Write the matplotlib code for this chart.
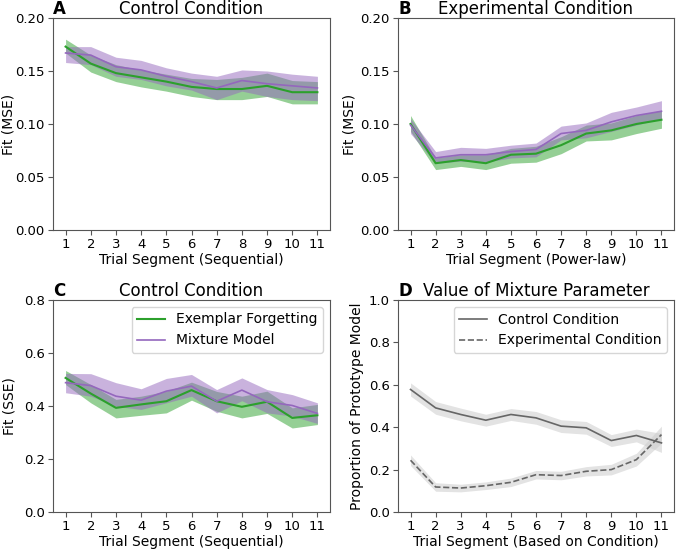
import matplotlib
matplotlib.use("Agg")
import matplotlib.pyplot as plt
import numpy as np

segments = np.arange(1, 12)

# Panel A: control condition, MSE
a_exemplar = [0.173, 0.157, 0.148, 0.144, 0.140, 0.135, 0.133, 0.133, 0.136, 0.130, 0.130]
a_exemplar_hi = [0.180, 0.165, 0.156, 0.151, 0.147, 0.143, 0.142, 0.144, 0.148, 0.141, 0.140]
a_exemplar_lo = [0.167, 0.149, 0.140, 0.135, 0.131, 0.126, 0.123, 0.123, 0.126, 0.119, 0.119]
a_mixture = [0.167, 0.165, 0.154, 0.151, 0.145, 0.140, 0.134, 0.141, 0.138, 0.136, 0.134]
a_mixture_hi = [0.173, 0.173, 0.163, 0.160, 0.153, 0.148, 0.145, 0.151, 0.150, 0.147, 0.145]
a_mixture_lo = [0.158, 0.156, 0.145, 0.142, 0.136, 0.132, 0.123, 0.131, 0.126, 0.123, 0.122]

# Panel B: experimental condition, MSE
b_exemplar = [0.100, 0.063, 0.066, 0.063, 0.071, 0.072, 0.080, 0.091, 0.094, 0.100, 0.104]
b_exemplar_hi = [0.108, 0.068, 0.071, 0.071, 0.077, 0.079, 0.088, 0.099, 0.101, 0.108, 0.113]
b_exemplar_lo = [0.093, 0.057, 0.060, 0.057, 0.063, 0.064, 0.072, 0.084, 0.085, 0.091, 0.096]
b_mixture = [0.099, 0.068, 0.071, 0.071, 0.074, 0.076, 0.091, 0.094, 0.102, 0.108, 0.112]
b_mixture_hi = [0.105, 0.074, 0.078, 0.077, 0.080, 0.082, 0.098, 0.101, 0.111, 0.116, 0.122]
b_mixture_lo = [0.091, 0.063, 0.065, 0.064, 0.068, 0.069, 0.085, 0.087, 0.093, 0.099, 0.105]

# Panel C: control condition, SSE
c_exemplar = [0.506, 0.447, 0.393, 0.406, 0.418, 0.460, 0.418, 0.397, 0.416, 0.355, 0.365]
c_exemplar_hi = [0.534, 0.481, 0.425, 0.437, 0.456, 0.490, 0.455, 0.437, 0.456, 0.393, 0.406]
c_exemplar_lo = [0.481, 0.412, 0.355, 0.365, 0.374, 0.422, 0.380, 0.355, 0.372, 0.317, 0.330]
c_mixture = [0.488, 0.477, 0.437, 0.422, 0.456, 0.475, 0.418, 0.460, 0.416, 0.402, 0.372]
c_mixture_hi = [0.523, 0.522, 0.488, 0.465, 0.504, 0.519, 0.462, 0.506, 0.462, 0.443, 0.412]
c_mixture_lo = [0.450, 0.437, 0.399, 0.387, 0.412, 0.437, 0.374, 0.420, 0.374, 0.362, 0.334]

# Panel D: mixture parameter
d_control = [0.578, 0.491, 0.460, 0.433, 0.460, 0.444, 0.405, 0.397, 0.337, 0.361, 0.326]
d_control_err = [0.031, 0.030, 0.030, 0.028, 0.028, 0.030, 0.030, 0.030, 0.028, 0.030, 0.045]
d_experimental = [0.244, 0.118, 0.113, 0.124, 0.140, 0.176, 0.172, 0.192, 0.200, 0.247, 0.365]
d_experimental_err = [0.025, 0.020, 0.018, 0.018, 0.020, 0.020, 0.020, 0.022, 0.025, 0.030, 0.040]

green = "#2ca02c"
purple = "#9467bd"
grey = "#666666"

fig = plt.figure(figsize=(6.76, 5.5), dpi=100)
W, H = 676, 550
def place(l, t, r, b):
    return fig.add_axes([l / W, 1 - b / H, (r - l) / W, (b - t) / H])

ax_a = place(53, 18, 330, 230)
ax_b = place(398, 18, 674, 230)
ax_c = place(53, 300, 330, 512)
ax_d = place(398, 300, 674, 512)

def fit_panel(ax, ex, ex_hi, ex_lo, mx, mx_hi, mx_lo):
    ax.fill_between(segments, ex_lo, ex_hi, color=green, alpha=0.5, lw=0)
    ax.fill_between(segments, mx_lo, mx_hi, color=purple, alpha=0.5, lw=0)
    ax.plot(segments, ex, color=green, lw=1.5, label="Exemplar Forgetting")
    ax.plot(segments, mx, color=purple, lw=1.2, label="Mixture Model")

fit_panel(ax_a, a_exemplar, a_exemplar_hi, a_exemplar_lo, a_mixture, a_mixture_hi, a_mixture_lo)
fit_panel(ax_b, b_exemplar, b_exemplar_hi, b_exemplar_lo, b_mixture, b_mixture_hi, b_mixture_lo)
fit_panel(ax_c, c_exemplar, c_exemplar_hi, c_exemplar_lo, c_mixture, c_mixture_hi, c_mixture_lo)

d_control = np.array(d_control)
d_experimental = np.array(d_experimental)
ax_d.fill_between(segments, d_control - d_control_err, d_control + d_control_err, color="#cccccc", alpha=0.55, lw=0)
ax_d.fill_between(segments, d_experimental - d_experimental_err, d_experimental + d_experimental_err, color="#cccccc", alpha=0.55, lw=0)
ax_d.plot(segments, d_control, color=grey, lw=1.2, label="Control Condition")
ax_d.plot(segments, d_experimental, color=grey, lw=1.2, ls="--", label="Experimental Condition")

# axes formatting
for ax in (ax_a, ax_b):
    ax.set_ylim(0, 0.2)
    ax.set_yticks([0, 0.05, 0.10, 0.15, 0.20])
    ax.set_yticklabels(["0.00", "0.05", "0.10", "0.15", "0.20"])
    ax.set_ylabel("Fit (MSE)", fontsize=10)
ax_c.set_ylim(0, 0.8)
ax_c.set_yticks([0, 0.2, 0.4, 0.6, 0.8])
ax_c.set_ylabel("Fit (SSE)", fontsize=10)
ax_d.set_ylim(0, 1.0)
ax_d.set_yticks([0, 0.2, 0.4, 0.6, 0.8, 1.0])
ax_d.set_ylabel("Proportion of Prototype Model", fontsize=10)

ax_a.yaxis.set_label_coords(-0.137, 0.5)
ax_b.yaxis.set_label_coords(-0.152, 0.5)
ax_c.yaxis.set_label_coords(-0.130, 0.5)
ax_d.yaxis.set_label_coords(-0.123, 0.5)

ax_a.set_xlabel("Trial Segment (Sequential)", fontsize=10, labelpad=1)
ax_b.set_xlabel("Trial Segment (Power-law)", fontsize=10, labelpad=1)
ax_c.set_xlabel("Trial Segment (Sequential)", fontsize=10, labelpad=1)
ax_d.set_xlabel("Trial Segment (Based on Condition)", fontsize=10, labelpad=1)

titles = [(ax_a, "A", "Control Condition"), (ax_b, "B", "Experimental Condition"),
          (ax_c, "C", "Control Condition"), (ax_d, "D", "Value of Mixture Parameter")]
for ax, letter, title in titles:
    ax.set_xlim(0.5, 11.5)
    ax.set_xticks(segments)
    ax.tick_params(labelsize=9.5, pad=2.5, length=3.5, color="#555555")
    ax.set_title(title, fontsize=12, pad=2)
    ax.set_title(letter, loc="left", fontsize=12, fontweight="bold", pad=2)
    for s in ax.spines.values():
        s.set_color("#555555")

ax_c.legend(loc="upper right", fontsize=10)
ax_d.legend(loc="upper right", fontsize=10)

plt.savefig("out.png", dpi=100)
